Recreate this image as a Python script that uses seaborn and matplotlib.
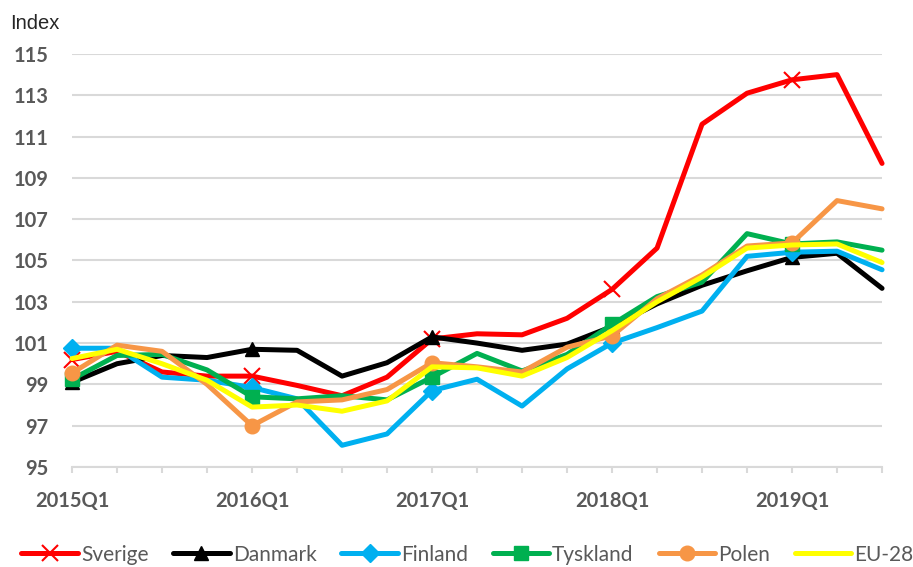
import matplotlib
matplotlib.use("Agg")
import matplotlib.pyplot as plt
import seaborn as sns
import pandas as pd

# Quarterly index values, 2015Q1 - 2019Q3
quarters = [f"{y}Q{q}" for y in range(2015, 2020) for q in range(1, 5)][:19]

sverige = [100.2, 100.6, 99.6, 99.4, 99.4, 98.95, 98.45, 99.35, 101.2, 101.45, 101.4,
           102.2, 103.6, 105.6, 111.6, 113.1, 113.75, 114.0, 109.7]
danmark = [99.1, 100.0, 100.4, 100.3, 100.7, 100.65, 99.4, 100.05, 101.3, 101.0, 100.65,
           100.95, 101.8, 102.9, 103.8, 104.5, 105.15, 105.35, 103.65]
finland = [100.75, 100.75, 99.35, 99.2, 98.85, 98.3, 96.05, 96.6, 98.7, 99.25, 97.95,
           99.75, 101.0, 101.75, 102.55, 105.2, 105.4, 105.45, 104.55]
tyskland = [99.25, 100.4, 100.45, 99.7, 98.4, 98.3, 98.45, 98.25, 99.35, 100.5, 99.65,
            100.45, 101.9, 103.25, 103.95, 106.3, 105.8, 105.9, 105.5]
polen = [99.55, 100.9, 100.6, 99.0, 97.0, 98.15, 98.25, 98.75, 100.05, 99.85, 99.6,
         100.8, 101.35, 103.15, 104.3, 105.7, 105.85, 107.9, 107.5]
eu28 = [100.25, 100.7, 100.0, 99.2, 97.9, 98.0, 97.7, 98.2, 99.85, 99.8, 99.4,
        100.3, 101.6, 103.0, 104.2, 105.6, 105.75, 105.8, 104.9]

series = {
    "Sverige": (sverige, "#FF0000", "x"),
    "Danmark": (danmark, "#000000", "^"),
    "Finland": (finland, "#00B0F0", "D"),
    "Tyskland": (tyskland, "#00B050", "s"),
    "Polen": (polen, "#F79646", "o"),
    "EU-28": (eu28, "#FFFF00", None),
}

sns.set_style("white")
plt.rcParams['font.family'] = ['Lato', 'DejaVu Sans']

fig = plt.figure(figsize=(9.13, 5.67), dpi=100)
ax = fig.add_axes([0.0789, 0.1764, 0.8872, 0.7284])

x = list(range(len(quarters)))
for name, (vals, col, mk) in series.items():
    df = pd.DataFrame({"q": x, "v": vals})
    if mk is None:
        kw = {}
    else:
        kw = dict(marker=mk, markevery=4, markersize=10.5, markeredgecolor=col,
                  markerfacecolor=col, markeredgewidth=1)
        if mk == "x":
            kw.update(markersize=12, markeredgewidth=1.5)
        if mk == "D":
            kw.update(markersize=9)
    sns.lineplot(data=df, x="q", y="v", ax=ax, color=col, lw=3.6, label=name,
                 solid_joinstyle="round", solid_capstyle="round", clip_on=False, **kw)

ax.set_xlim(0, 18)
ax.set_ylim(95, 115)
ax.set_yticks(range(95, 116, 2))
ax.set_xticks(x)
ax.set_xticklabels([q if q.endswith("Q1") else "" for q in quarters])
ax.set_xlabel("")
ax.set_ylabel("")
ax.grid(True, axis="y", color="#D9D9D9", lw=1.5)
ax.set_axisbelow(True)
for s in ["left", "right", "top"]:
    ax.spines[s].set_visible(False)
ax.spines["bottom"].set_color("#D9D9D9")
ax.spines["bottom"].set_linewidth(1.5)
ax.tick_params(axis="y", length=0, pad=17, labelsize=14.5, labelcolor="#595959")
ax.tick_params(axis="x", length=4, width=1.5, color="#D9D9D9", direction="out",
               pad=13, labelsize=14.5, labelcolor="#595959", bottom=True)
for lab in ax.get_xticklabels() + ax.get_yticklabels():
    lab.set_fontweight("bold")

fig.text(0.011, 0.958, "Index", fontsize=14.5, family=["Liberation Sans"], va="center")

handles, labels = ax.get_legend_handles_labels()
ax.get_legend().remove()
fig.legend(handles, labels, loc="center", bbox_to_anchor=(0.512, 0.022), ncol=6,
           frameon=False, fontsize=15, handlelength=2.7, handletextpad=0.15,
           columnspacing=1.2, labelcolor="#595959")

plt.savefig("out.png", dpi=100)
